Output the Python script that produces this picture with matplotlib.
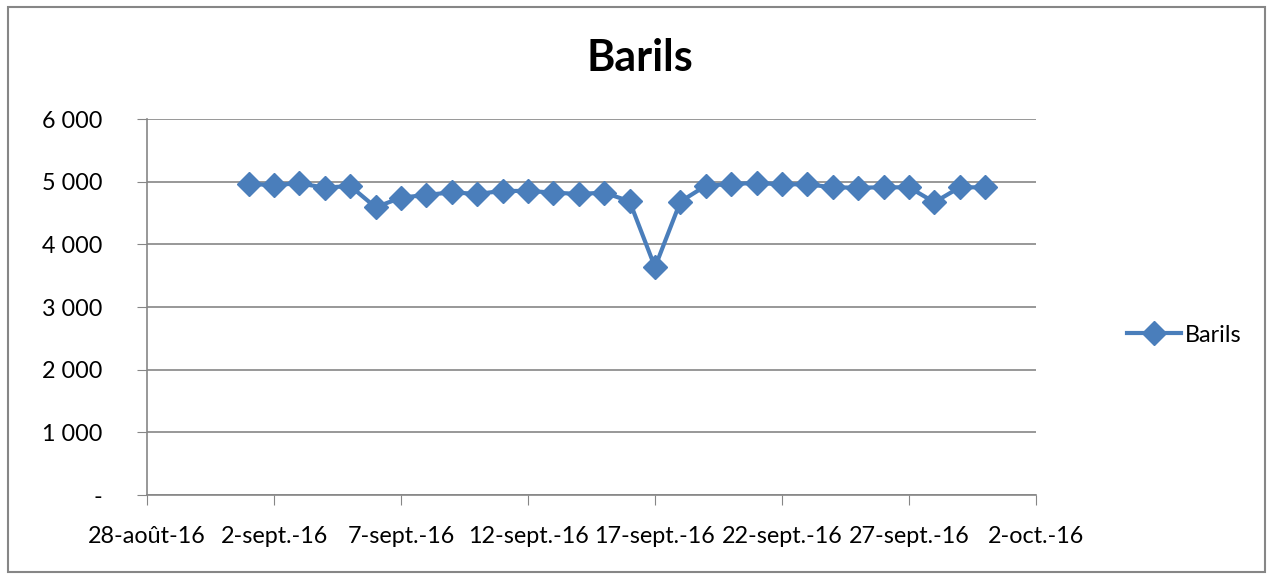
import matplotlib
matplotlib.use("Agg")
import matplotlib.pyplot as plt
import matplotlib.dates as mdates
from matplotlib.patches import Rectangle
import datetime as dt

# ---- data ----
start_day = dt.date(2016, 9, 1)
values = [4963, 4947, 4974, 4904, 4931, 4591, 4745, 4788, 4830, 4804,
          4852, 4852, 4825, 4804, 4825, 4687, 3635, 4681, 4936, 4963,
          4979, 4958, 4958, 4910, 4904, 4910, 4910, 4671, 4910, 4910]
dates = [start_day + dt.timedelta(days=i) for i in range(len(values))]
x_tick_dates = [dt.date(2016, 8, 28) + dt.timedelta(days=5 * i) for i in range(8)]
x_tick_labels = ["28-août-16", "2-sept.-16", "7-sept.-16", "12-sept.-16",
                 "17-sept.-16", "22-sept.-16", "27-sept.-16", "2-oct.-16"]
y_ticks = [0, 1000, 2000, 3000, 4000, 5000, 6000]
y_tick_labels = ["-", "1 000", "2 000", "3 000", "4 000", "5 000", "6 000"]
series_name = "Barils"
title = "Barils"

plt.rcParams['font.family'] = ['Lato', 'DejaVu Sans']

W, H = 1273, 579
fig = plt.figure(figsize=(W / 100, H / 100), dpi=100)
ax = fig.add_axes([147 / W, 1 - 495 / H, (1036 - 147) / W, (495 - 119) / H])

color = "#4A7EBB"
ax.plot(mdates.date2num(dates), values, color=color, lw=3.0, marker="D",
        markersize=12, label=series_name, zorder=3)

fs = 16.8
ax.set_xlim(mdates.date2num(x_tick_dates[0]), mdates.date2num(x_tick_dates[-1]))
ax.set_ylim(0, 6000)
ax.set_xticks(mdates.date2num(x_tick_dates))
ax.set_xticklabels(x_tick_labels, fontsize=fs)
ax.set_yticks(y_ticks)
ax.set_yticklabels(y_tick_labels, fontsize=fs)

grid_c = "#868686"
ax.yaxis.grid(True, color=grid_c, lw=1.2)
ax.set_axisbelow(True)
for s in ["top", "right"]:
    ax.spines[s].set_visible(False)
for s in ["left", "bottom"]:
    ax.spines[s].set_color(grid_c)
    ax.spines[s].set_linewidth(1.2)
ax.tick_params(axis="y", direction="out", length=7, color=grid_c, pad=25)
ax.tick_params(axis="x", direction="out", length=7, color=grid_c, pad=15)

fig.text(640 / W, 1 - 58 / H, title, fontsize=31, fontweight="bold",
         ha="center", va="center")

leg = fig.legend(loc="center left", bbox_to_anchor=(1118 / W, 1 - 335 / H),
                 frameon=False, fontsize=fs, handlelength=2.3,
                 handletextpad=0.15, borderaxespad=0)

fig.patches.append(Rectangle((8 / W, 1 - 572 / H), (1265 - 8) / W, (572 - 7) / H,
                             transform=fig.transFigure, fill=False,
                             edgecolor="#868686", lw=1.5))

fig.savefig("out.png", dpi=100)
